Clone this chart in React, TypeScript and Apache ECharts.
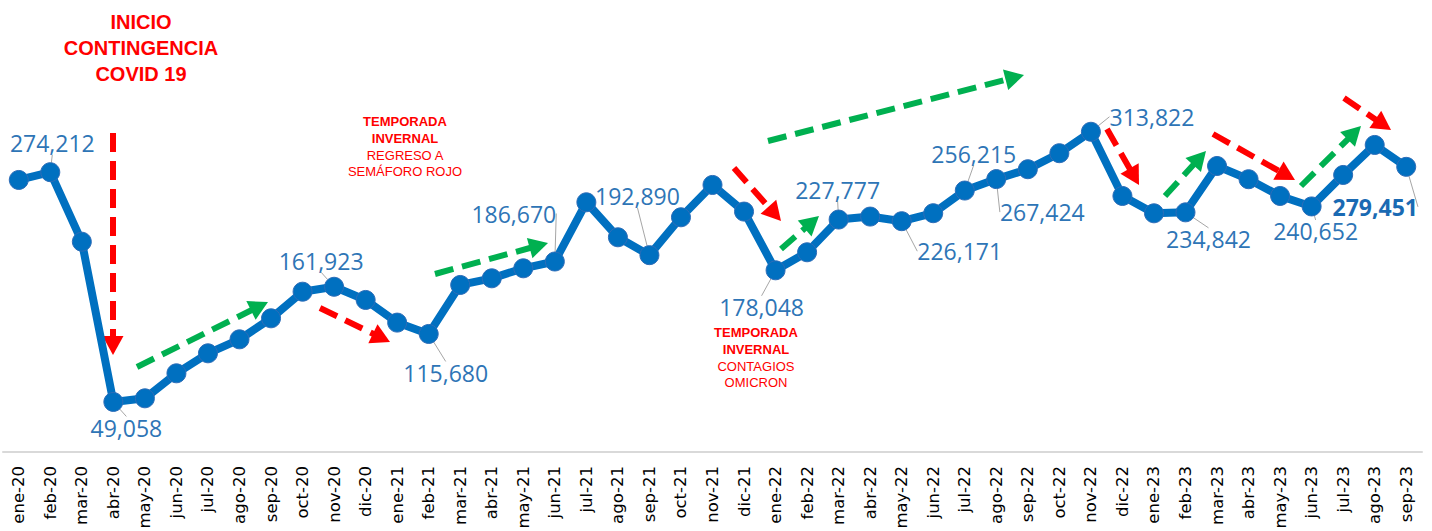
import React, { useEffect, useRef } from "react";
import * as echarts from "echarts";

const categories = [
  "ene-20","feb-20","mar-20","abr-20","may-20","jun-20","jul-20","ago-20","sep-20","oct-20","nov-20","dic-20",
  "ene-21","feb-21","mar-21","abr-21","may-21","jun-21","jul-21","ago-21","sep-21","oct-21","nov-21","dic-21",
  "ene-22","feb-22","mar-22","abr-22","may-22","jun-22","jul-22","ago-22","sep-22","oct-22","nov-22","dic-22",
  "ene-23","feb-23","mar-23","abr-23","may-23","jun-23","jul-23","ago-23","sep-23",
];

const values = [
  266600, 274212, 206100, 49058, 52600, 77100, 96700, 110400, 131000, 157100, 161923, 149000,
  126800, 115680, 163700, 170200, 180000, 186670, 244700, 210400, 192890, 230000, 261700, 235600,
  178048, 195700, 227777, 230700, 226171, 234000, 256215, 267424, 277100, 292800, 313822, 250900,
  233900, 234842, 280300, 267300, 250900, 240652, 271500, 300900, 279451,
];

// indices of points that carry a data label
const labeledPoints = [1, 3, 10, 13, 17, 20, 24, 26, 28, 30, 31, 34, 37, 41, 44];

// label displacement (px) from its point, for layout only
const labelShift: Record<number, [number, number]> = {
  1: [2, -29], 3: [13, 26], 10: [-13, -26], 13: [17, 39], 17: [-41, -48], 20: [-12, -59],
  24: [-14, 37], 26: [-1, -30], 28: [58, 30], 30: [9, -37], 31: [46, 33], 34: [61, -15],
  37: [23, 27], 41: [4, 25], 44: [-31, 40],
};

const RED = "#FF0000";
const GREEN = "#00B050";

function arrow(x1: number, y1: number, x2: number, y2: number, color: string) {
  const dx = x2 - x1, dy = y2 - y1;
  const len = Math.hypot(dx, dy);
  const ux = dx / len, uy = dy / len;
  const nx = -uy, ny = ux;
  const hl = 19, hw = 21;
  const bx = x2 - ux * hl, by = y2 - uy * hl;
  return [
    {
      type: "line",
      shape: { x1, y1, x2: bx + ux * 2, y2: by + uy * 2 },
      style: { stroke: color, lineWidth: 6, lineDash: [19, 9] },
      silent: true,
    },
    {
      type: "polygon",
      shape: { points: [[x2, y2], [bx + nx * hw / 2, by + ny * hw / 2], [bx - nx * hw / 2, by - ny * hw / 2]] },
      style: { fill: color },
      silent: true,
    },
  ];
}

function txt(x: number, y: number, text: string, font: string) {
  return {
    type: "text",
    x, y,
    style: { text, fill: RED, font, textAlign: "center", textVerticalAlign: "middle" },
    silent: true,
  };
}

export default function App() {
  const ref = useRef<HTMLDivElement>(null);
  useEffect(() => {
    if (!ref.current) return;
    const chart = echarts.init(ref.current, undefined, { renderer: "svg" });
    const fmt = (v: number) => v.toLocaleString("en-US");
    const graphic: any[] = [
      ...arrow(113, 133, 113, 355, RED),
      ...arrow(137, 367, 268, 302, GREEN),
      ...arrow(320, 308, 390, 342, RED),
      ...arrow(435, 274, 548, 243, GREEN),
      ...arrow(734, 168, 781, 221, RED),
      ...arrow(781, 249, 819, 216, GREEN),
      ...arrow(768, 141, 1024, 75, GREEN),
      ...arrow(1107, 129, 1139, 185, RED),
      ...arrow(1165, 196, 1206, 151, GREEN),
      ...arrow(1213, 134, 1295, 180, RED),
      ...arrow(1301, 186, 1361, 126, GREEN),
      ...arrow(1344, 98, 1391, 130, RED),
      txt(141, 22, "INICIO", "bold 20px 'Liberation Sans', Arial, sans-serif"),
      txt(141, 48, "CONTINGENCIA", "bold 20px 'Liberation Sans', Arial, sans-serif"),
      txt(141, 74, "COVID 19", "bold 20px 'Liberation Sans', Arial, sans-serif"),
      txt(405, 121, "TEMPORADA", "bold 13px 'Liberation Sans', Arial, sans-serif"),
      txt(405, 138, "INVERNAL", "bold 13px 'Liberation Sans', Arial, sans-serif"),
      txt(405, 155, "REGRESO A", "13px 'Liberation Sans', Arial, sans-serif"),
      txt(405, 171, "SEMÁFORO ROJO", "13px 'Liberation Sans', Arial, sans-serif"),
      txt(756, 332, "TEMPORADA", "bold 13px 'Liberation Sans', Arial, sans-serif"),
      txt(756, 349, "INVERNAL", "bold 13px 'Liberation Sans', Arial, sans-serif"),
      txt(756, 366, "CONTAGIOS", "13px 'Liberation Sans', Arial, sans-serif"),
      txt(756, 382, "OMICRON", "13px 'Liberation Sans', Arial, sans-serif"),
    ];
    chart.setOption({
      animation: false,
      grid: { left: 3, right: 10, top: 3, bottom: 79, containLabel: false, outerBoundsMode: "none" },
      xAxis: {
        type: "category",
        data: categories,
        boundaryGap: true,
        axisLine: { lineStyle: { color: "#D9D9D9", width: 2 } },
        axisTick: { show: false },
        axisLabel: {
          rotate: 90,
          interval: 0,
          margin: 14,
          color: "#000",
          fontSize: 16.5,
          fontFamily: "'DejaVu Sans', sans-serif",
        },
      },
      yAxis: { type: "value", min: 0, max: 440000, show: false, splitLine: { show: false } },
      graphic,
      series: [
        {
          type: "line",
          data: values.map((v, i) => {
            const on = labeledPoints.includes(i);
            return {
              value: v,
              label: {
                show: on,
                fontWeight: i === 44 ? "bold" : "normal",
                color: i === 44 ? "#1A6AB3" : "#2E75B6",
              },
            };
          }),
          symbol: "circle",
          symbolSize: 19,
          lineStyle: { color: "#0070C0", width: 8 },
          itemStyle: { color: "#0070C0", borderColor: "#2E6DB8", borderWidth: 1 },
          label: {
            position: "inside",
            formatter: (p: any) => fmt(p.value),
            fontSize: 23,
            fontFamily: "'Open Sans', sans-serif",
          },
          labelLayout: (p: any) => {
            const s = labelShift[p.dataIndex];
            return s ? { dx: s[0], dy: s[1] } : {};
          },
          labelLine: { show: true, lineStyle: { color: "#A6A6A6", width: 1 } },
          z: 3,
        },
      ],
    });
    return () => chart.dispose();
  }, []);
  return <div ref={ref} style={{ position: "fixed", left: 0, top: 0, width: 1432, height: 531, background: "#fff" }} />;
}
